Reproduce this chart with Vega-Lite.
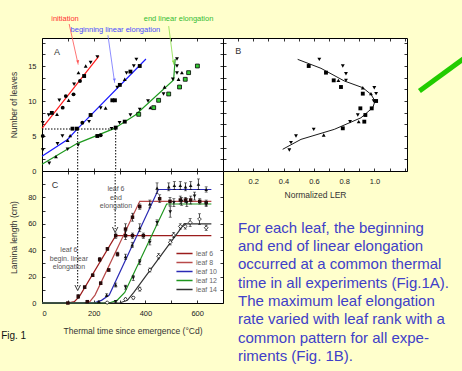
{
  "$schema": "https://vega.github.io/schema/vega-lite/v6.json",
  "background": "#ffffcc",
  "autosize": {"type": "pad"},
  "padding": {"left": 0, "top": 14, "right": 0, "bottom": 15},
  "columns": 2,
  "spacing": 0,
  "bounds": "flush",
  "resolve": {"scale": {"color": "independent", "shape": "independent"}, "legend": {"color": "independent", "shape": "independent"}},
  "config": {
    "font": "Liberation Sans",
    "view": {"stroke": "#000", "strokeWidth": 1, "fill": "white"},
    "axis": {"domain": false, "grid": false, "tickSize": -3, "tickColor": "#000", "tickWidth": 0.8, "labelFontSize": 7.5, "labelColor": "#222", "labelPadding": 9, "titleFontSize": 8.5, "titleFontWeight": "normal", "titleColor": "#333"}
  },
  "datasets": {
    "aLines": [
      {"s": "init", "t": 0, "n": 6.1}, {"s": "init", "t": 220, "n": 16.4},
      {"s": "begin", "t": 0, "n": 2.1}, {"s": "begin", "t": 99, "n": 4.5}, {"s": "begin", "t": 135, "n": 5.95}, {"s": "begin", "t": 402, "n": 16},
      {"s": "end", "t": 0, "n": 0.95}, {"s": "end", "t": 137, "n": 3.95}, {"s": "end", "t": 278, "n": 6.05}, {"s": "end", "t": 361, "n": 8}, {"s": "end", "t": 509, "n": 13}, {"s": "end", "t": 515, "n": 16}
    ],
    "aGuides": [
      {"t": 0, "t2": 285, "n": 6, "n2": 6},
      {"t": 138, "t2": 138, "n": 6, "n2": 0},
      {"t": 285, "t2": 285, "n": 6, "n2": 0}
    ],
    "aPts": [
      {"t": 3, "n": 6.9, "m": "inv"}, {"t": 3, "n": 5.0, "m": "cir"}, {"t": 26, "n": 8.0, "m": "inv"}, {"t": 38, "n": 8.3, "m": "sq"}, {"t": 58, "n": 8.1, "m": "tri"}, {"t": 67, "n": 10.1, "m": "inv"}, {"t": 80, "n": 9.05, "m": "cir"}, {"t": 92, "n": 10.7, "m": "cir"}, {"t": 103, "n": 10.1, "m": "tri"}, {"t": 122, "n": 10.95, "m": "cir"}, {"t": 124, "n": 12.4, "m": "inv"}, {"t": 141, "n": 14.05, "m": "tri"}, {"t": 147, "n": 12.86, "m": "cir"}, {"t": 163, "n": 13.57, "m": "sq"}, {"t": 169, "n": 15, "m": "tri"}, {"t": 188, "n": 15.5, "m": "inv"}, {"t": 214, "n": 16.3, "m": "inv"},
      {"t": 3, "n": 3.0, "m": "inv"}, {"t": 60, "n": 3.9, "m": "inv"}, {"t": 79, "n": 5.0, "m": "inv"}, {"t": 99, "n": 4.4, "m": "tri"}, {"t": 109, "n": 5.05, "m": "tri"}, {"t": 118, "n": 6.05, "m": "sq"}, {"t": 135, "n": 6.05, "m": "sq"}, {"t": 156, "n": 6.9, "m": "cir"}, {"t": 182, "n": 7.05, "m": "inv"}, {"t": 188, "n": 8.0, "m": "sq"}, {"t": 227, "n": 9.0, "m": "inv"}, {"t": 246, "n": 9.0, "m": "tri"}, {"t": 272, "n": 10.1, "m": "sq"}, {"t": 282, "n": 10.1, "m": "sq"}, {"t": 291, "n": 11.95, "m": "inv"}, {"t": 301, "n": 12.3, "m": "sq"}, {"t": 320, "n": 13.1, "m": "tri"}, {"t": 327, "n": 14.0, "m": "inv"}, {"t": 342, "n": 14.2, "m": "sq"}, {"t": 355, "n": 15.0, "m": "inv"}, {"t": 365, "n": 15.95, "m": "inv"}, {"t": 378, "n": 15.0, "m": "sq"},
      {"t": 28, "n": 1.1, "m": "inv"}, {"t": 54, "n": 2.05, "m": "tri"}, {"t": 99, "n": 3.1, "m": "inv"}, {"t": 140, "n": 3.7, "m": "inv"}, {"t": 214, "n": 5.0, "m": "sq"}, {"t": 227, "n": 5.1, "m": "cir"}, {"t": 269, "n": 6.05, "m": "inv"}, {"t": 285, "n": 6.2, "m": "sq"}, {"t": 300, "n": 6.9, "m": "inv"}, {"t": 320, "n": 7.05, "m": "sq"}, {"t": 342, "n": 8.0, "m": "inv"}, {"t": 374, "n": 8.1, "m": "gsq"}, {"t": 378, "n": 8.8, "m": "inv"}, {"t": 410, "n": 10.0, "m": "inv"}, {"t": 419, "n": 9.05, "m": "tri"}, {"t": 432, "n": 9.05, "m": "gsq"}, {"t": 451, "n": 10.1, "m": "gsq"}, {"t": 470, "n": 11.0, "m": "inv"}, {"t": 474, "n": 12.0, "m": "tri"}, {"t": 490, "n": 11.0, "m": "gsq"}, {"t": 506, "n": 13.1, "m": "inv"}, {"t": 522, "n": 16.0, "m": "inv"}, {"t": 522, "n": 15.0, "m": "inv"}, {"t": 522, "n": 14.0, "m": "inv"}, {"t": 528, "n": 13.1, "m": "tri"}, {"t": 541, "n": 14.05, "m": "tri"}, {"t": 532, "n": 12.0, "m": "gsq"}, {"t": 554, "n": 13.1, "m": "gsq"}, {"t": 567, "n": 14.05, "m": "gsq"}, {"t": 601, "n": 15.0, "m": "gsq"}
    ],
    "bCurve": [
      {"ler": 0.394, "n": 3.1}, {"ler": 0.515, "n": 4.52}, {"ler": 0.735, "n": 5.95}, {"ler": 0.911, "n": 7.6}, {"ler": 0.989, "n": 9.05}, {"ler": 1.004, "n": 10}, {"ler": 0.977, "n": 10.95}, {"ler": 0.923, "n": 11.9}, {"ler": 0.801, "n": 12.86}, {"ler": 0.647, "n": 14.67}, {"ler": 0.493, "n": 15.95}
    ],
    "bPts": [
      {"ler": 0.636, "n": 15.95, "m": "inv"}, {"ler": 0.566, "n": 15.0, "m": "sq"}, {"ler": 0.791, "n": 15.0, "m": "inv"}, {"ler": 0.68, "n": 14.05, "m": "sq"}, {"ler": 0.812, "n": 13.9, "m": "inv"}, {"ler": 0.731, "n": 12.95, "m": "sq"}, {"ler": 0.762, "n": 12.95, "m": "tri"}, {"ler": 0.812, "n": 12.95, "m": "inv"}, {"ler": 0.779, "n": 12.0, "m": "sq"}, {"ler": 0.923, "n": 11.9, "m": "tri"}, {"ler": 0.923, "n": 11.05, "m": "sq"}, {"ler": 0.999, "n": 11.9, "m": "inv"}, {"ler": 0.977, "n": 11.05, "m": "tri"}, {"ler": 1.011, "n": 11.05, "m": "inv"}, {"ler": 0.995, "n": 10.0, "m": "inv"}, {"ler": 1.011, "n": 10.0, "m": "sq"}, {"ler": 0.907, "n": 8.95, "m": "sq"}, {"ler": 0.982, "n": 8.95, "m": "sq"}, {"ler": 0.94, "n": 8.0, "m": "sq"}, {"ler": 0.89, "n": 8.0, "m": "inv"}, {"ler": 0.896, "n": 7.05, "m": "tri"}, {"ler": 0.933, "n": 7.05, "m": "sq"}, {"ler": 0.839, "n": 7.05, "m": "inv"}, {"ler": 0.791, "n": 6.1, "m": "sq"}, {"ler": 0.599, "n": 5.95, "m": "inv"}, {"ler": 0.665, "n": 5.14, "m": "tri"}, {"ler": 0.482, "n": 5.0, "m": "inv"}, {"ler": 0.449, "n": 4.05, "m": "inv"}, {"ler": 0.438, "n": 3.0, "m": "inv"}
    ],
    "cLines": [
      {"leaf": "leaf 6", "t": 0, "len": 0}, {"leaf": "leaf 6", "t": 100, "len": 0}, {"leaf": "leaf 6", "t": 125, "len": 1}, {"leaf": "leaf 6", "t": 145, "len": 5}, {"leaf": "leaf 6", "t": 285, "len": 51}, {"leaf": "leaf 6", "t": 655, "len": 51},
      {"leaf": "leaf 8", "t": 0, "len": 0}, {"leaf": "leaf 8", "t": 160, "len": 0}, {"leaf": "leaf 8", "t": 185, "len": 1}, {"leaf": "leaf 8", "t": 205, "len": 6}, {"leaf": "leaf 8", "t": 378, "len": 77}, {"leaf": "leaf 8", "t": 655, "len": 77},
      {"leaf": "leaf 10", "t": 0, "len": 0}, {"leaf": "leaf 10", "t": 200, "len": 0}, {"leaf": "leaf 10", "t": 230, "len": 2}, {"leaf": "leaf 10", "t": 260, "len": 6}, {"leaf": "leaf 10", "t": 450, "len": 86}, {"leaf": "leaf 10", "t": 655, "len": 86},
      {"leaf": "leaf 12", "t": 0, "len": 0}, {"leaf": "leaf 12", "t": 260, "len": 0}, {"leaf": "leaf 12", "t": 290, "len": 2}, {"leaf": "leaf 12", "t": 320, "len": 8}, {"leaf": "leaf 12", "t": 482, "len": 75}, {"leaf": "leaf 12", "t": 655, "len": 75},
      {"leaf": "leaf 14", "t": 0, "len": 0}, {"leaf": "leaf 14", "t": 300, "len": 0}, {"leaf": "leaf 14", "t": 330, "len": 2}, {"leaf": "leaf 14", "t": 355, "len": 8}, {"leaf": "leaf 14", "t": 550, "len": 60}, {"leaf": "leaf 14", "t": 655, "len": 60}
    ],
    "cPts": [
      {"leaf": "leaf 6", "t": 100, "len": 0, "e": 0.5}, {"leaf": "leaf 6", "t": 140, "len": 5, "e": 1.5}, {"leaf": "leaf 6", "t": 165, "len": 12, "e": 1}, {"leaf": "leaf 6", "t": 196, "len": 21, "e": 1}, {"leaf": "leaf 6", "t": 223, "len": 33, "e": 1.5}, {"leaf": "leaf 6", "t": 253, "len": 41, "e": 1}, {"leaf": "leaf 6", "t": 285, "len": 51, "e": 2}, {"leaf": "leaf 6", "t": 323, "len": 51, "e": 3}, {"leaf": "leaf 6", "t": 350, "len": 51, "e": 2}, {"leaf": "leaf 6", "t": 392, "len": 51, "e": 2},
      {"leaf": "leaf 8", "t": 175, "len": 1, "e": 0.5}, {"leaf": "leaf 8", "t": 227, "len": 15, "e": 1}, {"leaf": "leaf 8", "t": 258, "len": 25, "e": 1}, {"leaf": "leaf 8", "t": 292, "len": 37, "e": 1.5}, {"leaf": "leaf 8", "t": 323, "len": 56, "e": 4}, {"leaf": "leaf 8", "t": 350, "len": 65, "e": 3}, {"leaf": "leaf 8", "t": 378, "len": 73, "e": 2}, {"leaf": "leaf 8", "t": 455, "len": 79, "e": 3}, {"leaf": "leaf 8", "t": 495, "len": 77, "e": 3}, {"leaf": "leaf 8", "t": 535, "len": 78, "e": 3}, {"leaf": "leaf 8", "t": 555, "len": 78, "e": 2}, {"leaf": "leaf 8", "t": 575, "len": 78, "e": 3}, {"leaf": "leaf 8", "t": 610, "len": 77, "e": 2}, {"leaf": "leaf 8", "t": 635, "len": 76, "e": 2},
      {"leaf": "leaf 10", "t": 220, "len": 1, "e": 0.5}, {"leaf": "leaf 10", "t": 250, "len": 6, "e": 1}, {"leaf": "leaf 10", "t": 285, "len": 13.6, "e": 1.5}, {"leaf": "leaf 10", "t": 323, "len": 35, "e": 2}, {"leaf": "leaf 10", "t": 349, "len": 44, "e": 2}, {"leaf": "leaf 10", "t": 378, "len": 57, "e": 3}, {"leaf": "leaf 10", "t": 417, "len": 75, "e": 3}, {"leaf": "leaf 10", "t": 445, "len": 87, "e": 4}, {"leaf": "leaf 10", "t": 490, "len": 88, "e": 3}, {"leaf": "leaf 10", "t": 512, "len": 89, "e": 3}, {"leaf": "leaf 10", "t": 535, "len": 89, "e": 3}, {"leaf": "leaf 10", "t": 555, "len": 88, "e": 3}, {"leaf": "leaf 10", "t": 575, "len": 89, "e": 3}, {"leaf": "leaf 10", "t": 605, "len": 90, "e": 4}, {"leaf": "leaf 10", "t": 635, "len": 86, "e": 2},
      {"leaf": "leaf 12", "t": 285, "len": 1, "e": 0.5}, {"leaf": "leaf 12", "t": 323, "len": 12, "e": 1.5}, {"leaf": "leaf 12", "t": 353, "len": 19, "e": 2}, {"leaf": "leaf 12", "t": 378, "len": 31, "e": 2}, {"leaf": "leaf 12", "t": 417, "len": 46, "e": 2}, {"leaf": "leaf 12", "t": 445, "len": 61, "e": 2}, {"leaf": "leaf 12", "t": 496, "len": 69, "e": 4}, {"leaf": "leaf 12", "t": 510, "len": 76, "e": 3}, {"leaf": "leaf 12", "t": 540, "len": 77, "e": 3}, {"leaf": "leaf 12", "t": 560, "len": 76, "e": 3}, {"leaf": "leaf 12", "t": 590, "len": 81, "e": 3}, {"leaf": "leaf 12", "t": 635, "len": 75, "e": 2},
      {"leaf": "leaf 14", "t": 252, "len": 0.3, "e": 0.5}, {"leaf": "leaf 14", "t": 323, "len": 2.8, "e": 1}, {"leaf": "leaf 14", "t": 353, "len": 4, "e": 1}, {"leaf": "leaf 14", "t": 378, "len": 10.5, "e": 1.5}, {"leaf": "leaf 14", "t": 417, "len": 25, "e": 1.5}, {"leaf": "leaf 14", "t": 451, "len": 35.4, "e": 2}, {"leaf": "leaf 14", "t": 496, "len": 46, "e": 2}, {"leaf": "leaf 14", "t": 509, "len": 51.5, "e": 2}, {"leaf": "leaf 14", "t": 535, "len": 58, "e": 2}, {"leaf": "leaf 14", "t": 554, "len": 58, "e": 2}, {"leaf": "leaf 14", "t": 573, "len": 61, "e": 3}, {"leaf": "leaf 14", "t": 609, "len": 63.6, "e": 4}, {"leaf": "leaf 14", "t": 635, "len": 57, "e": 2}
    ],
    "cGuides": [
      {"t": 138, "t2": 138, "len": 100, "len2": 12},
      {"t": 283, "t2": 283, "len": 100, "len2": 56}
    ],
    "cHeads": [
      {"t": 138, "len": 11.5},
      {"t": 283, "len": 55.5}
    ],
    "note": [
      {"line": 0, "txt": "For each leaf, the beginning"},
      {"line": 1, "txt": "and end of linear elongation"},
      {"line": 2, "txt": "occurred at a common thermal"},
      {"line": 3, "txt": "time in all experiments (Fig.1A)."},
      {"line": 4, "txt": "The maximum leaf elongation"},
      {"line": 5, "txt": "rate varied with leaf rank with a"},
      {"line": 6, "txt": "common pattern for all expe-"},
      {"line": 7, "txt": "riments (Fig. 1B)."}
    ]
  },
  "concat": [
    {
      "width": 181,
      "height": 133,
      "resolve": {"axis": {"x": "independent", "y": "independent"}},
      "layer": [
        {
          "data": {"name": "aLines"},
          "mark": {"type": "line", "strokeWidth": 1.2},
          "encoding": {
            "x": {"field": "t", "type": "quantitative", "scale": {"domain": [0, 700], "nice": false}, "axis": {"values": [0, 100, 200, 300, 400, 500, 600], "labels": false, "title": null}},
            "y": {"field": "n", "type": "quantitative", "scale": {"domain": [0, 19], "nice": false}, "axis": {"values": [0, 1.667, 3.333, 5, 6.667, 8.333, 10, 11.667, 13.333, 15, 16.667, 18.333], "labelExpr": "datum.value % 5 === 0 ? datum.label : ''", "title": "Number of leaves", "titlePadding": 9}},
            "color": {"field": "s", "type": "nominal", "scale": {"domain": ["init", "begin", "end"], "range": ["#ff1a1a", "#1a1aff", "#1e9a1e"]}, "legend": null}
          }
        },
        {
          "data": {"name": "aGuides"},
          "mark": {"type": "rule", "strokeDash": [1.5, 1.5], "color": "#000", "strokeWidth": 1},
          "encoding": {
            "x": {"field": "t", "type": "quantitative", "axis": {"orient": "top", "values": [0, 100, 200, 300, 400, 500, 600], "labels": false, "title": null}},
            "x2": {"field": "t2"},
            "y": {"field": "n", "type": "quantitative", "axis": {"orient": "right", "values": [0, 1.667, 3.333, 5, 6.667, 8.333, 10, 11.667, 13.333, 15, 16.667, 18.333], "labels": false, "title": null}},
            "y2": {"field": "n2"}
          }
        },
        {
          "data": {"name": "aPts"},
          "transform": [{"filter": "datum.m !== 'gsq'"}],
          "mark": {"type": "point", "filled": true, "color": "#000", "size": 15, "opacity": 1},
          "encoding": {
            "x": {"field": "t", "type": "quantitative", "axis": null},
            "y": {"field": "n", "type": "quantitative", "axis": null},
            "shape": {"field": "m", "type": "nominal", "scale": {"domain": ["tri", "inv", "cir", "sq"], "range": ["triangle-up", "triangle-down", "circle", "square"]}, "legend": null}
          }
        },
        {
          "data": {"name": "aPts"},
          "transform": [{"filter": "datum.m === 'gsq'"}],
          "mark": {"type": "square", "fill": "#33cc33", "stroke": "#000", "strokeWidth": 0.8, "size": 15, "opacity": 1},
          "encoding": {
            "x": {"field": "t", "type": "quantitative", "axis": null},
            "y": {"field": "n", "type": "quantitative", "axis": null}
          }
        },
        {
          "data": {"values": [{}]},
          "mark": {"type": "text", "text": "A", "fontSize": 9, "color": "#333"},
          "encoding": {"x": {"datum": 58, "type": "quantitative", "axis": null}, "y": {"datum": 17, "type": "quantitative", "axis": null}}
        },
        {
          "data": {"values": [{}]},
          "mark": {"type": "text", "text": "initiation", "fontSize": 7.5, "color": "#ff3030"},
          "encoding": {"x": {"datum": 89, "type": "quantitative", "axis": null}, "y": {"datum": 21.7, "type": "quantitative", "axis": null}}
        },
        {
          "data": {"values": [{}]},
          "mark": {"type": "text", "text": "beginning linear elongation", "fontSize": 7.5, "color": "#4a4aff"},
          "encoding": {"x": {"datum": 284, "type": "quantitative", "axis": null}, "y": {"datum": 20.1, "type": "quantitative", "axis": null}}
        },
        {
          "data": {"values": [{}]},
          "mark": {"type": "text", "text": "end linear elongation", "fontSize": 7.5, "color": "#33bb33"},
          "encoding": {"x": {"datum": 528, "type": "quantitative", "axis": null}, "y": {"datum": 21.7, "type": "quantitative", "axis": null}}
        },
        {
          "data": {"values": [{}]},
          "mark": {"type": "rule", "color": "#ff5050", "strokeWidth": 0.8},
          "encoding": {"x": {"datum": 105, "type": "quantitative", "axis": null}, "y": {"datum": 21.0, "type": "quantitative", "axis": null}, "x2": {"datum": 140}, "y2": {"datum": 15.2}}
        },
        {
          "data": {"values": [{}]},
          "mark": {"type": "rule", "color": "#7070ff", "strokeWidth": 0.8},
          "encoding": {"x": {"datum": 255, "type": "quantitative", "axis": null}, "y": {"datum": 19.4, "type": "quantitative", "axis": null}, "x2": {"datum": 281}, "y2": {"datum": 12.6}}
        },
        {
          "data": {"values": [{}]},
          "mark": {"type": "rule", "color": "#88dd44", "strokeWidth": 0.8},
          "encoding": {"x": {"datum": 490, "type": "quantitative", "axis": null}, "y": {"datum": 20.7, "type": "quantitative", "axis": null}, "x2": {"datum": 509}, "y2": {"datum": 15.2}}
        },
        {
          "data": {"values": [{}]},
          "mark": {"type": "point", "shape": "triangle-down", "filled": true, "color": "#ff5050", "size": 10, "angle": 347, "opacity": 1},
          "encoding": {"x": {"datum": 139, "type": "quantitative", "axis": null}, "y": {"datum": 15.6, "type": "quantitative", "axis": null}}
        },
        {
          "data": {"values": [{}]},
          "mark": {"type": "point", "shape": "triangle-down", "filled": true, "color": "#7070ff", "size": 10, "angle": 352, "opacity": 1},
          "encoding": {"x": {"datum": 280.5, "type": "quantitative", "axis": null}, "y": {"datum": 13.0, "type": "quantitative", "axis": null}}
        },
        {
          "data": {"values": [{}]},
          "mark": {"type": "point", "shape": "triangle-down", "filled": true, "color": "#88dd44", "size": 10, "angle": 353, "opacity": 1},
          "encoding": {"x": {"datum": 508.5, "type": "quantitative", "axis": null}, "y": {"datum": 15.6, "type": "quantitative", "axis": null}}
        }
      ]
    },
    {
      "width": 184,
      "height": 133,
      "resolve": {"axis": {"x": "independent", "y": "independent"}},
      "layer": [
        {
          "data": {"name": "bCurve"},
          "mark": {"type": "line", "color": "#000", "strokeWidth": 0.9},
          "encoding": {
            "x": {"field": "ler", "type": "quantitative", "scale": {"domain": [0, 1.215], "nice": false, "zero": false}, "axis": {"values": [0.1, 0.2, 0.3, 0.4, 0.5, 0.6, 0.7, 0.8, 0.9, 1.0, 1.1, 1.2], "labelExpr": "(round(datum.value*10) % 2 === 0 && datum.value > 0.15 && datum.value < 1.05) ? format(datum.value, '.1f') : ''", "title": "Normalized LER", "titlePadding": 6}},
            "y": {"field": "n", "type": "quantitative", "scale": {"domain": [0, 19], "nice": false}, "axis": {"values": [0, 1.667, 3.333, 5, 6.667, 8.333, 10, 11.667, 13.333, 15, 16.667, 18.333], "labels": false, "title": null}},
            "order": {"field": "n", "type": "quantitative"}
          }
        },
        {
          "data": {"name": "bPts"},
          "mark": {"type": "point", "filled": true, "color": "#000", "size": 15, "opacity": 1},
          "encoding": {
            "x": {"field": "ler", "type": "quantitative", "axis": {"orient": "top", "values": [0.1, 0.2, 0.3, 0.4, 0.5, 0.6, 0.7, 0.8, 0.9, 1.0, 1.1, 1.2], "labels": false, "title": null}},
            "y": {"field": "n", "type": "quantitative", "axis": {"orient": "right", "values": [0, 1.667, 3.333, 5, 6.667, 8.333, 10, 11.667, 13.333, 15, 16.667, 18.333], "labels": false, "title": null}},
            "shape": {"field": "m", "type": "nominal", "scale": {"domain": ["tri", "inv", "sq"], "range": ["triangle-up", "triangle-down", "square"]}, "legend": null}
          }
        },
        {
          "data": {"values": [{}]},
          "mark": {"type": "text", "text": "B", "fontSize": 9, "color": "#333"},
          "encoding": {"x": {"datum": 0.1, "type": "quantitative", "axis": null}, "y": {"datum": 17.1, "type": "quantitative", "axis": null}}
        },
        {
          "data": {"values": [{}]},
          "mark": {"type": "rule", "color": "#22cc00", "strokeWidth": 5},
          "encoding": {"x": {"datum": 1.297, "type": "quantitative", "axis": null}, "y": {"datum": 11.43, "type": "quantitative", "axis": null}, "x2": {"datum": 1.66}, "y2": {"datum": 17.18}}
        }
      ]
    },
    {
      "width": 181,
      "height": 132,
      "resolve": {"axis": {"x": "independent", "y": "independent"}},
      "layer": [
        {
          "data": {"name": "cLines"},
          "mark": {"type": "line", "strokeWidth": 1.2},
          "encoding": {
            "x": {"field": "t", "type": "quantitative", "scale": {"domain": [0, 700], "nice": false}, "axis": {"values": [0, 100, 200, 300, 400, 500, 600], "labelExpr": "datum.value % 200 === 0 ? datum.label : ''", "title": "Thermal time since emergence (°Cd)", "titlePadding": 10}},
            "y": {"field": "len", "type": "quantitative", "scale": {"domain": [0, 100], "nice": false}, "axis": {"values": [0, 10, 20, 30, 40, 50, 60, 70, 80, 90], "labelExpr": "datum.value % 20 === 0 ? datum.label : ''", "title": "Lamina length (cm)", "titlePadding": 9}},
            "color": {"field": "leaf", "type": "nominal", "scale": {"domain": ["leaf 6", "leaf 8", "leaf 10", "leaf 12", "leaf 14"], "range": ["#9b1c1c", "#b84a4a", "#2a2ab4", "#1e961e", "#333333"]}, "legend": {"orient": "none", "legendX": 137, "legendY": 77, "title": null, "symbolType": "M-1.7,0H1.7", "symbolSize": 90, "symbolStrokeWidth": 1.5, "labelFontSize": 7, "labelColor": "#666", "rowPadding": 0, "labelOffset": 6, "padding": 0}}
          }
        },
        {
          "data": {"name": "cGuides"},
          "mark": {"type": "rule", "strokeDash": [1.5, 1.5], "color": "#000", "strokeWidth": 1},
          "encoding": {
            "x": {"field": "t", "type": "quantitative", "axis": {"orient": "top", "values": [0, 100, 200, 300, 400, 500, 600], "labels": false, "title": null}},
            "x2": {"field": "t2"},
            "y": {"field": "len", "type": "quantitative", "axis": {"orient": "right", "values": [0, 10, 20, 30, 40, 50, 60, 70, 80, 90], "labels": false, "title": null}},
            "y2": {"field": "len2"}
          }
        },
        {
          "data": {"name": "cHeads"},
          "mark": {"type": "point", "shape": "M-1,-1L0,1L1,-1", "filled": false, "color": "#000", "strokeWidth": 0.8, "size": 30, "opacity": 1},
          "encoding": {
            "x": {"field": "t", "type": "quantitative", "axis": null},
            "y": {"field": "len", "type": "quantitative", "axis": null}
          }
        },
        {
          "data": {"name": "cPts"},
          "mark": {"type": "errorbar", "ticks": {"size": 3}, "color": "#000", "thickness": 0.7},
          "encoding": {
            "x": {"field": "t", "type": "quantitative", "axis": null},
            "y": {"field": "len", "type": "quantitative", "axis": null},
            "yError": {"field": "e"}
          }
        },
        {
          "data": {"name": "cPts"},
          "transform": [{"filter": "datum.leaf === 'leaf 6' || datum.leaf === 'leaf 8'"}],
          "mark": {"type": "square", "color": "#2a0a0a", "size": 12, "opacity": 1},
          "encoding": {"x": {"field": "t", "type": "quantitative", "axis": null}, "y": {"field": "len", "type": "quantitative", "axis": null}}
        },
        {
          "data": {"name": "cPts"},
          "transform": [{"filter": "datum.leaf === 'leaf 10'"}],
          "mark": {"type": "point", "shape": "triangle-up", "filled": true, "color": "#111", "size": 13, "opacity": 1},
          "encoding": {"x": {"field": "t", "type": "quantitative", "axis": null}, "y": {"field": "len", "type": "quantitative", "axis": null}}
        },
        {
          "data": {"name": "cPts"},
          "transform": [{"filter": "datum.leaf === 'leaf 12'"}],
          "mark": {"type": "point", "shape": "triangle-down", "filled": true, "color": "#111", "size": 13, "opacity": 1},
          "encoding": {"x": {"field": "t", "type": "quantitative", "axis": null}, "y": {"field": "len", "type": "quantitative", "axis": null}}
        },
        {
          "data": {"name": "cPts"},
          "transform": [{"filter": "datum.leaf === 'leaf 14'"}],
          "mark": {"type": "point", "shape": "diamond", "filled": false, "fill": "white", "stroke": "#111", "strokeWidth": 0.8, "size": 14, "opacity": 1},
          "encoding": {"x": {"field": "t", "type": "quantitative", "axis": null}, "y": {"field": "len", "type": "quantitative", "axis": null}}
        },
        {
          "data": {"values": [{}]},
          "mark": {"type": "text", "text": "C", "fontSize": 9, "color": "#333"},
          "encoding": {"x": {"datum": 50, "type": "quantitative", "axis": null}, "y": {"datum": 89.4, "type": "quantitative", "axis": null}}
        },
        {
          "data": {"values": [{}]},
          "mark": {"type": "text", "text": ["leaf 6", "end", "elongation"], "fontSize": 7, "lineHeight": 8.5, "color": "#555", "baseline": "middle"},
          "encoding": {"x": {"datum": 286, "type": "quantitative", "axis": null}, "y": {"datum": 86.3, "type": "quantitative", "axis": null}}
        },
        {
          "data": {"values": [{}]},
          "mark": {"type": "text", "text": ["leaf 6", "begin. linear", "elongation"], "fontSize": 7, "lineHeight": 8.5, "color": "#555", "baseline": "middle"},
          "encoding": {"x": {"datum": 104, "type": "quantitative", "axis": null}, "y": {"datum": 39.8, "type": "quantitative", "axis": null}}
        },
        {
          "data": {"values": [{}]},
          "mark": {"type": "text", "text": "Fig. 1", "fontSize": 10, "color": "#111", "align": "left"},
          "encoding": {"x": {"datum": -158, "type": "quantitative", "axis": null}, "y": {"datum": -25, "type": "quantitative", "axis": null}}
        }
      ]
    },
    {
      "width": 184,
      "height": 132,
      "view": {"stroke": null, "fill": null},
      "data": {"name": "note"},
      "mark": {"type": "text", "align": "left", "baseline": "middle", "fontSize": 15, "color": "#4040c8"},
      "encoding": {
        "x": {"datum": 15, "type": "quantitative", "scale": {"domain": [0, 184]}, "axis": null},
        "y": {"field": "line", "type": "quantitative", "scale": {"domain": [-3.09, 4.11], "reverse": true, "nice": false, "zero": false}, "axis": null},
        "text": {"field": "txt"}
      }
    }
  ]
}
